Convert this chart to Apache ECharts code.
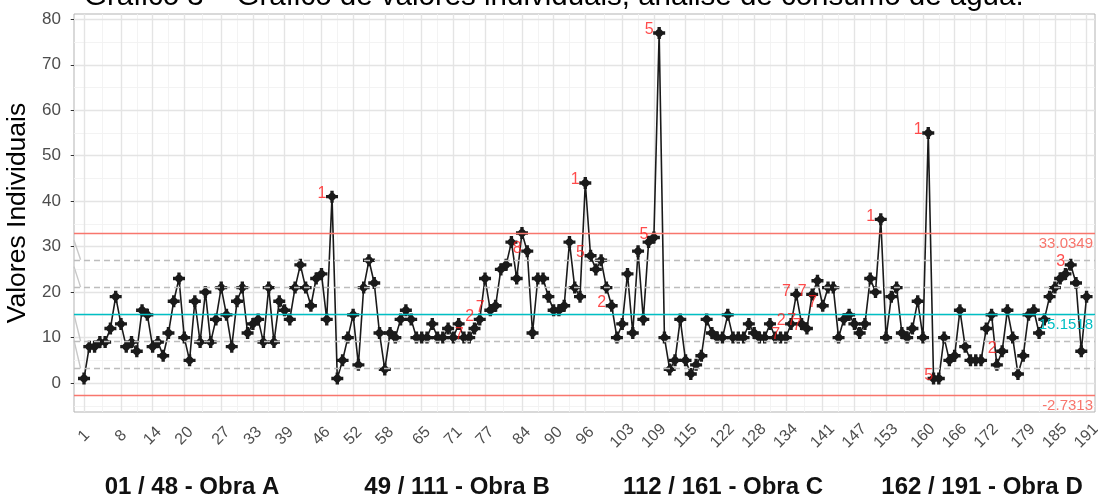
<!DOCTYPE html>
<html><head><meta charset="utf-8">
<script src="https://cdn.jsdelivr.net/npm/echarts@6/dist/echarts.min.js"></script>
<style>html,body{margin:0;padding:0;background:#fff}#c{width:1098px;height:498px}</style>
</head><body><div id="c"></div>
<script>
const titleText = 'Gráfico 3 – Gráfico de valores individuais, análise de consumo de água.';
const yAxisTitle = 'Valores Individuais';
const groupLabels = ['01 / 48 - Obra A', '49 / 111 - Obra B', '112 / 161 - Obra C', '162 / 191 - Obra D'];

// individual values, observations 1..191
const values = [
  1,8,8,9,9,12,19,13,8,9,
  7,16,15,8,9,6,11,18,23,10,
  5,18,9,20,9,14,21,15,8,18,
  21,11,13,14,9,21,9,18,16,14,
  21,26,21,17,23,24,14,41,1,5,
  10,15,4,21,27,22,11,3,11,10,
  14,16,14,10,10,10,13,10,10,12,
  10,13,10,10,12,14,23,16,17,25,
  26,31,23,33,29,11,23,23,19,16,
  16,17,31,21,19,44,28,25,27,21,
  17,10,13,24,11,29,14,31,32,77,
  10,3,5,14,5,2,4,6,14,11,
  10,10,15,10,10,10,13,11,10,10,
  13,10,10,10,13,19.5,13,12,19.5,22.5,
  17,21,21,10,14,15,13,11,13,23,
  20,36,10,19,21,11,10,12,18,10,
  55,1,1,10,5,6,16,8,5,5,
  5,12,15,4,7,16,10,2,6,15,
  16,11,14,19,21,23,24,26,22,7,
  19
];
const tickLabels = [1,8,14,20,27,33,39,46,52,58,65,71,77,84,90,96,103,109,115,122,128,134,141,147,153,160,166,172,179,185,191];
const yTicks = [0,10,20,30,40,50,60,70,80];

const ucl = 33.0349, cl = 15.1518, lcl = -2.7313;
const sigmaLines = [27.0739, 21.1128, 9.1908, 3.2297];
// short grey lead-in segments at the left edge: [start value, end value]
const leadIn = [[31.4, 27.1], [25.6, 21.1], [15.1, 9.2], [9.4, 3.2]];

// rule violation labels
const ruleIdx  = [48, 74, 76, 78, 85, 96, 97, 101, 109, 110, 134, 135, 136, 137, 138, 139, 141, 152, 161, 163, 175, 188];
const ruleText = ['1','7','2','7','8','1','5','2','5','5','7','2','7','7','7','7','7','1','1','5','2','3'];

const FONT = '"Liberation Sans", Arial, Helvetica, sans-serif';
const chart = echarts.init(document.getElementById('c'), null, {renderer: 'canvas'});
const pts = values.map((v, i) => [i + 1, v]);
const X_MIN = -0.9, X_MAX = 192.6;

const xMinor = [];
for (let i = 0; i < tickLabels.length - 1; i++) xMinor.push((tickLabels[i] + tickLabels[i + 1]) / 2);
const yMinor = [];
for (let v = -5; v <= 75; v += 10) yMinor.push(v);

const gMaj = {color: '#E4E4E4', width: 1.4, type: 'solid'};
const gMin = {color: '#F2F2F2', width: 0.9, type: 'solid'};
const gridData = [].concat(
  xMinor.map(v => ({xAxis: v, lineStyle: gMin})),
  yMinor.map(v => ({yAxis: v, lineStyle: gMin})),
  tickLabels.map(v => ({xAxis: v, lineStyle: gMaj})),
  yTicks.map(v => ({yAxis: v, lineStyle: gMaj}))
);

const RED = '#F8766D', CYAN = '#00BFC4', GREY = '#BDBDBD';
const limLabel = (txt, col) => ({show: true, position: 'insideEndBottom', formatter: txt, color: col, fontSize: 15, fontFamily: FONT, distance: [2, 3]});
const limData = [].concat(
  sigmaLines.map(v => ({yAxis: v, lineStyle: {color: GREY, width: 1.4, type: [6, 4]}, label: {show: false}})),
  [
    {yAxis: ucl, lineStyle: {color: RED, width: 1.4, type: 'solid'}, label: limLabel(ucl.toFixed(4), RED)},
    {yAxis: cl, lineStyle: {color: CYAN, width: 1.4, type: 'solid'}, label: limLabel(cl.toFixed(4), CYAN)},
    {yAxis: lcl, lineStyle: {color: RED, width: 1.4, type: 'solid'}, label: limLabel(lcl.toFixed(4), RED)}
  ]
);

const marker = 'path://M-0.28,-1L0.28,-1L0.28,-0.62L0.62,-0.28L1,-0.28L1,0.28L0.62,0.28L0.28,0.62L0.28,1L-0.28,1L-0.28,0.62L-0.62,0.28L-1,0.28L-1,-0.28L-0.62,-0.28L-0.28,-0.62Z';

const series = [
  {
    type: 'line', data: pts, symbol: 'none', lineStyle: {opacity: 0}, z: 1, silent: true,
    markLine: {silent: true, symbol: ['none', 'none'], label: {show: false}, z: 1, animation: false, data: gridData}
  }
].concat(leadIn.map(s => ({
  type: 'line', data: [[X_MIN, s[0]], [0.35, s[1]]], symbol: 'none', silent: true, z: 2,
  lineStyle: {color: '#C8C8C8', width: 1.4}
}))).concat([
  {
    type: 'line', data: pts, symbol: marker, symbolSize: 12, z: 3,
    itemStyle: {color: '#1A1A1A'}, lineStyle: {color: '#1A1A1A', width: 1.6}
  },
  {
    type: 'line', data: pts, symbol: 'none', lineStyle: {opacity: 0}, z: 4, silent: true,
    markLine: {silent: true, symbol: ['none', 'none'], z: 4, animation: false, data: limData}
  },
  {
    type: 'scatter', data: ruleIdx.map(i => [i, values[i - 1]]), symbolSize: 1, z: 6, silent: true,
    itemStyle: {color: 'rgba(0,0,0,0)'},
    label: {show: true, position: 'inside', offset: [-10, -3], formatter: p => ruleText[p.dataIndex],
            color: '#FF1E1E', fontSize: 16, fontFamily: FONT}
  }
]);

const groupX = [192, 457, 723, 982];
const graphic = [
  {type: 'text', x: 84, y: -3.5, z: 10, style: {text: titleText, font: '29.5px ' + FONT, fill: '#000', textAlign: 'left', textVerticalAlign: 'middle'}}
].concat(groupLabels.map((t, i) => ({
  type: 'text', x: groupX[i], y: 487, z: 10,
  style: {text: t, font: 'bold 24px ' + FONT, fill: '#111', textAlign: 'center', textVerticalAlign: 'middle'}
})));

chart.setOption({
  animation: false,
  textStyle: {fontFamily: FONT},
  grid: {left: 74, right: 3, top: 14, bottom: 86, show: true, borderColor: '#B3B3B3', borderWidth: 1, backgroundColor: '#fff',
         outerBoundsMode: 'none', containLabel: false},
  xAxis: {
    type: 'value', min: X_MIN, max: X_MAX,
    axisLine: {show: false},
    axisTick: {show: true, customValues: tickLabels, length: 8, lineStyle: {color: '#333', width: 1}},
    axisLabel: {customValues: tickLabels, rotate: 45, align: 'center', verticalAlign: 'middle', margin: 24, fontSize: 16, color: '#4D4D4D', fontFamily: FONT},
    splitLine: {show: false}
  },
  yAxis: {
    type: 'value', min: -6.37, max: 81.17,
    name: yAxisTitle, nameLocation: 'middle', nameGap: 35,
    nameTextStyle: {fontSize: 26.5, color: '#000', fontFamily: FONT},
    axisLine: {show: false},
    axisTick: {show: true, customValues: yTicks, length: 8, lineStyle: {color: '#333', width: 1}},
    axisLabel: {customValues: yTicks, fontSize: 17, color: '#4D4D4D', margin: 13, fontFamily: FONT},
    splitLine: {show: false}
  },
  graphic: graphic,
  series: series
});
</script></body></html>
